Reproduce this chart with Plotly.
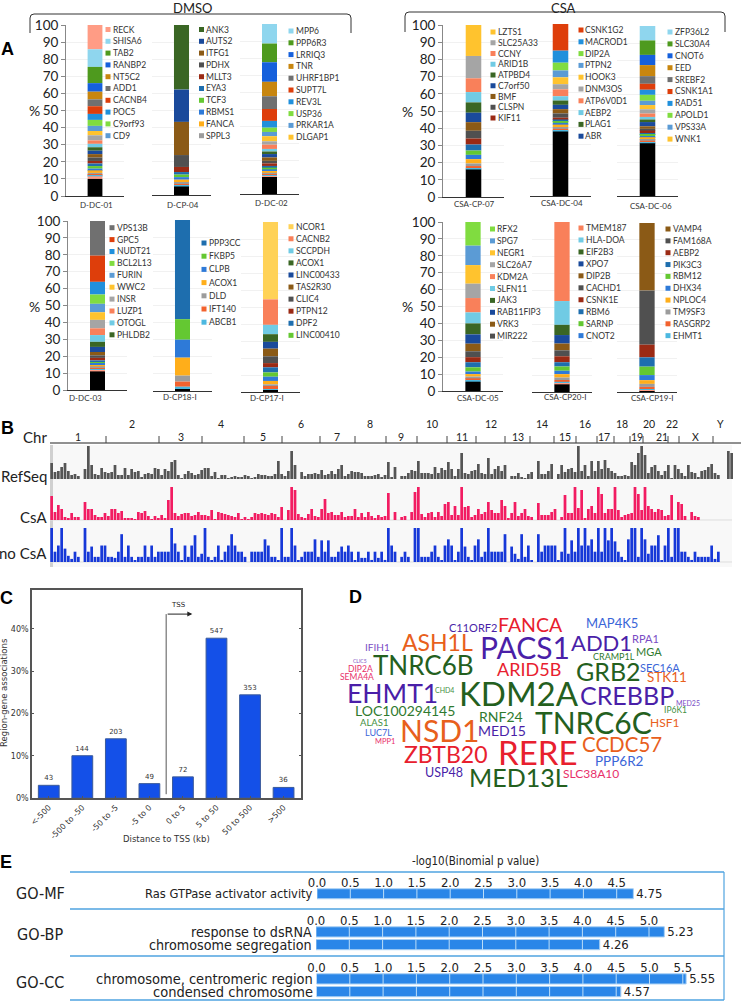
import plotly.graph_objects as go

W, H = 741, 1001
SANS = "Lato"
DJV = "DejaVu Sans"
COND = "DejaVu Sans Condensed, DejaVu Sans"

# ---------- Panel A data ----------
CYCLE = ["#FF9C85", "#8FD6EE", "#4E9A1E", "#1560DC", "#C8860F", "#707070", "#DE3E0B", "#2090DC",
         "#80DC40", "#5B9BD5", "#FFC32E", "#A5A5A5", "#F9805A", "#70CBE4", "#3A6624", "#1A4A9B",
         "#8B5A16", "#505050", "#9B2A14", "#1E6EAE", "#64C832", "#2E7AD8", "#FFAE1A", "#9C9C9C",
         "#F2622E", "#4CB8E0"]

names = ["D-DC-01", "D-CP-04", "D-DC-02", "D-DC-03", "D-CP18-I", "D-CP17-I",
         "CSA-CP-07", "CSA-DC-04", "CSA-DC-06", "CSA-DC-05", "CSA-CP20-I", "CSA-CP19-I"]

# cumulative tops of the stacked segments, top to bottom; last value is the black base
tops_1 = [100, 85.8, 75.5, 66, 61, 56.5, 52.5, 48, 44.5, 41, 38, 35.5, 32.5, 30.5, 28.5, 26.5, 24.5, 22.5, 20.5, 19, 17.5, 16, 15, 13.5, 12.5, 12, 11.5, 10]
tops_2 = [100, 62, 43, 23.5, 16.5, 13.5, 12, 10.5, 9, 7.5, 6.5, 5.5, 5]
tops_3 = [100, 88.5, 77.5, 66, 57.5, 50, 43, 39, 36.5, 34, 31, 29, 26.5, 25, 23.5, 21.5, 19.5, 18, 16.5, 15.5, 14.5, 13.5, 12.5, 11.5, 11, 10.5, 10]
tops_4 = [100, 79.5, 64, 56.5, 51, 46, 41.5, 36.5, 32.5, 28.5, 25.5, 22.5, 20.5, 19, 17.5, 16.5, 15.5, 14.8, 14, 13, 12, 11.5, 11]
tops_5 = [100, 42, 30, 19.5, 9, 5.5, 2.5, 1]
tops_6 = [100, 54.5, 39.5, 34, 29.5, 25.5, 21, 17, 14.5, 11.5, 9, 6.5, 4.5, 3.5, 1.5, 1]
tops_7 = [100, 82, 69, 61, 55, 49, 43.5, 38.5, 34, 30.5, 27, 24.5, 22, 19.5, 18, 16.5, 16]
tops_8 = [100, 84.5, 77.5, 73, 69, 65, 62, 58, 55.5, 53, 50.5, 48, 45.5, 44.5, 43.5, 42.5, 41.5, 40, 39, 38, 37.5]
tops_9 = [100, 91.5, 83, 77, 70.5, 66, 62.5, 59.5, 56, 53.5, 51, 48.5, 46.5, 45, 43.5, 41, 39.5, 38.5, 37, 36, 35.3, 34.6, 33.5, 32.5, 31.5, 31]
tops_10 = [100, 86, 74.5, 63.5, 55, 46.5, 40, 33.5, 28, 23.5, 20, 17, 14, 11.5, 10, 8.5, 7.5, 6, 5.5]
tops_11 = [100, 53.5, 39.5, 33.5, 28.5, 24.5, 21, 17.5, 15, 12.5, 10.5, 8.5, 7, 6, 5, 4.5]
tops_12 = [100, 60, 28, 20.5, 15, 10, 7, 4.8, 3, 1.5, 0.8, 0.5]
all_tops = [tops_1, tops_2, tops_3, tops_4, tops_5, tops_6, tops_7, tops_8, tops_9, tops_10, tops_11, tops_12]
cycle_start = [0, 14, 1, 5, 19, 11, 10, 6, 1, 8, 12, 16]
first_color = {5: "#FFD257"}

genes_1 = ["RECK", "SHISA6", "TAB2", "RANBP2", "NT5C2", "ADD1", "CACNB4", "POC5", "C9orf93", "CD9"]
genes_2 = ["ANK3", "AUTS2", "ITFG1", "PDHX", "MLLT3", "EYA3", "TCF3", "RBMS1", "FANCA", "SPPL3"]
genes_3 = ["MPP6", "PPP6R3", "LRRIQ3", "TNR", "UHRF1BP1", "SUPT7L", "REV3L", "USP36", "PRKAR1A", "DLGAP1"]
genes_4 = ["VPS13B", "GPC5", "NUDT21", "BCL2L13", "FURIN", "WWC2", "INSR", "LUZP1", "OTOGL", "PHLDB2"]
genes_5 = ["PPP3CC", "FKBP5", "CLPB", "ACOX1", "DLD", "IFT140", "ABCB1"]
genes_6 = ["NCOR1", "CACNB2", "SCCPDH", "ACOX1", "LINC00433", "TAS2R30", "CLIC4", "PTPN12", "DPF2", "LINC00410"]
genes_7 = ["LZTS1", "SLC25A33", "CCNY", "ARID1B", "ATPBD4", "C7orf50", "BMF", "CLSPN", "KIF11"]
genes_8 = ["CSNK1G2", "MACROD1", "DIP2A", "PTPN2", "HOOK3", "DNM3OS", "ATP6V0D1", "AEBP2", "PLAG1", "ABR"]
genes_9 = ["ZFP36L2", "SLC30A4", "CNOT6", "EED", "SREBF2", "CSNK1A1", "RAD51", "APOLD1", "VPS33A", "WNK1"]
genes_10 = ["RFX2", "SPG7", "NEGR1", "SLC26A7", "KDM2A", "SLFN11", "JAK3", "RAB11FIP3", "VRK3", "MIR222"]
genes_11 = ["TMEM187", "HLA-DOA", "EIF2B3", "XPO7", "DIP2B", "CACHD1", "CSNK1E", "RBM6", "SARNP", "CNOT2"]
genes_12 = ["VAMP4", "FAM168A", "AEBP2", "PIK3C3", "RBM12", "DHX34", "NPLOC4", "TM9SF3", "RASGRP2", "EHMT1"]
all_genes = [genes_1, genes_2, genes_3, genes_4, genes_5, genes_6, genes_7, genes_8, genes_9, genes_10, genes_11, genes_12]

# x0, x1, ytop, ybottom, show_y, legend swatch x, legend text x, legend y0, legend step, label x, label y
panel_geo = [
    (66, 124, 25, 196, True, 108, 113, 29.5, 11.8, 96, 205),
    (152, 211, 25, 195, False, 201.5, 206, 29.5, 11.8, 183, 205),
    (240, 299, 24, 194, False, 291, 296, 31, 11.8, 271, 203),
    (68, 127, 221, 390, True, 112, 117, 227.7, 11.9, 85, 398),
    (153, 212, 220, 391, False, 204, 209, 243, 13.2, 180, 397),
    (241, 300, 222, 392, False, 291, 296, 226.7, 12.07, 267, 398),
    (443, 504, 25, 197, True, 493, 498, 32, 10.75, 474, 204),
    (530, 591, 24, 196, False, 581, 585, 30, 11.8, 562, 203),
    (617, 678, 26, 196, False, 670, 675, 32, 11.9, 651, 206),
    (443, 503, 222, 391, True, 492.5, 497, 229, 11.9, 478, 398),
    (532, 592, 222, 392, False, 581, 586, 228, 11.96, 565, 397),
    (617, 677, 223, 392, False, 668, 673, 229, 11.85, 652, 398),
]

# ---------- Panel B data ----------
refseq = [16,7,8,12,16,8,4,5,3,0,10,33,14,5,4,11,7,6,7,14,4,4,11,4,10,7,8,2,5,6,5,11,10,4,10,8,17,19,4,1,5,8,6,4,5,9,11,11,3,7,1,4,4,1,2,3,2,2,4,3,1,2,5,4,4,3,3,5,18,
          5,3,8,28,14,0,7,3,5,5,6,5,9,4,5,8,5,10,14,3,5,8,7,7,6,3,3,3,4,5,2,4,17,2,12,0,3,3,6,9,8,18,6,6,6,5,12,6,11,9,17,10,3,10,26,6,5,8,9,15,6,5,21,5,10,13,8,14,0,
          3,3,6,2,1,5,7,0,18,5,5,8,15,0,5,14,7,10,11,7,33,8,14,3,18,8,18,10,19,11,8,6,3,3,4,3,17,14,26,33,24,6,12,14,8,4,8,14,1,14,10,6,3,14,7,6,2,8,9,12,15,6,4,0,0,28,26,0,0]
csa = [24,8,15,11,3,2,7,3,3,0,18,11,11,5,3,3,7,4,11,11,7,9,2,2,2,1,8,7,9,4,1,4,2,5,2,20,33,7,4,6,7,7,4,5,8,5,5,4,10,1,8,7,6,5,4,3,7,1,3,1,3,7,6,7,6,5,7,6,3,
       13,0,10,33,30,6,3,2,6,11,4,3,11,21,7,8,5,5,8,3,4,4,11,3,7,3,8,4,2,5,3,4,27,0,8,0,3,4,0,8,28,33,6,3,7,8,3,8,4,16,18,5,14,5,33,13,14,3,5,11,6,8,18,10,7,7,20,14,2,
       7,18,4,7,11,4,3,0,17,5,5,5,8,11,0,3,25,7,7,33,12,30,2,11,14,7,33,26,7,11,11,33,10,3,5,6,7,33,26,10,33,14,11,8,11,10,4,5,25,0,18,16,4,0,8,4,3,0,0,0,0,0,0,0,0,0,0,0,0]
nocsa = [33,10,16,33,13,6,3,10,5,0,33,10,15,5,5,16,16,5,5,4,10,27,5,16,5,1,5,5,16,5,16,5,10,10,10,10,33,18,10,1,16,5,16,26,5,8,33,5,1,5,16,2,10,16,27,16,10,10,5,0,10,10,10,10,22,16,5,5,1,
         33,5,5,33,16,1,5,10,10,10,22,5,21,10,21,5,5,10,15,10,16,10,1,10,4,4,10,2,10,4,10,2,33,16,10,0,5,10,5,0,33,33,5,5,5,10,16,5,1,16,22,16,1,10,33,15,5,1,16,22,5,10,33,10,10,10,10,27,0,
         15,8,3,27,5,16,1,0,27,10,16,16,16,16,1,10,33,8,21,10,33,16,33,16,22,10,33,10,33,21,33,20,10,5,1,22,33,33,5,33,22,8,16,16,26,1,16,33,5,33,33,10,10,5,2,10,5,5,5,5,16,3,10,0,0,0,0,0,0]
chr_ticks = [106, 159, 202, 244, 282, 320, 355, 386, 417, 447, 476, 505, 530, 554, 576, 597, 614, 630, 643, 668, 679, 713]
chr_low = ["1", "3", "5", "7", "9", "11", "13", "15", "17", "19", "21", "X"]
chr_low_x = [78, 181, 263, 337, 401, 462, 518, 565, 604, 637, 662, 695]
chr_up = ["2", "4", "6", "8", "10", "12", "14", "16", "18", "20", "22", "Y"]
chr_up_x = [132, 221, 301, 370, 432, 491, 542, 585, 622, 649, 672, 720]

# ---------- Panel C data ----------
tss_labels = ["<-500", "-500 to -50", "-50 to -5", "-5 to 0", "0 to 5", "5 to 50", "50 to 500", ">500"]
tss_pct = [3.0, 10.0, 14.0, 3.4, 5.0, 37.8, 24.4, 2.5]
tss_counts = [43, 144, 203, 49, 72, 547, 353, 36]
tss_y_ticks = [0, 10, 20, 30, 40]

# ---------- Panel D data ----------
words = ["FANCA", "C11ORF2", "MAP4K5", "PACS1", "ASH1L", "ADD1", "RPA1", "IFIH1", "MGA", "CRAMP1L", "TNRC6B", "ARID5B", "GRB2", "CLIC5", "DIP2A",
         "SEMA4A", "SEC16A", "STK11", "EHMT1", "CHD4", "KDM2A", "CREBBP", "MED25", "LOC100294145", "IP6K1", "RNF24", "TNRC6C", "ALAS1", "HSF1",
         "NSD1", "MED15", "LUC7L", "MPP1", "CCDC57", "RERE", "ZBTB20", "PPP6R2", "USP48", "MED13L", "SLC38A10"]
word_x = [530, 473, 612, 525, 437, 601, 645, 377, 649, 614, 424, 529, 608, 360, 360, 357, 660, 667, 392, 444, 519, 627, 688, 405, 675, 501, 593, 374, 664,
          439, 502, 378, 385, 622, 537, 446, 619, 444, 518, 591]
word_y = [624, 627, 623, 647, 642, 642, 638, 647, 651, 656, 665, 669, 671, 661, 669, 677, 667, 677, 693, 690, 693, 695, 703, 710, 710, 716, 722, 722, 722,
          730, 730, 732, 741, 744, 752, 754, 761, 772, 777, 773]
word_size = [19.5, 11, 13, 30, 23, 22, 11, 10, 11, 9, 26, 18, 25, 5, 8.5, 8.5, 11, 13.5, 26.5, 7, 33, 25, 7, 14, 8.5, 14, 30, 9.5, 12, 30, 14, 9, 7.5, 20.5, 33, 23, 13.5, 12.5, 25, 12]
PUR, PUR2, GRN, DGRN, MGRN, BLU, ORG, RED, PNK = "#4A1FA8", "#7A4CC4", "#3F8F3F", "#24601E", "#2F7A2F", "#3A66D8", "#E8601C", "#E8202E", "#E8306A"
word_color = [RED, PUR, BLU, PUR, ORG, PUR, PUR2, PUR2, MGRN, MGRN, DGRN, RED, DGRN, PUR2, PNK, PNK, BLU, ORG, PUR, GRN, DGRN, PUR, PUR2, MGRN, GRN, MGRN, DGRN, GRN, ORG,
              ORG, PUR, BLU, PNK, ORG, RED, RED, BLU, PUR, DGRN, PNK]

# ---------- Panel E data ----------
go_mf_terms = ["Ras GTPase activator activity"]
go_mf_vals = [4.75]
go_bp_terms = ["response to dsRNA", "chromosome segregation"]
go_bp_vals = [5.23, 4.26]
go_cc_terms = ["chromosome, centromeric region", "condensed chromosome"]
go_cc_vals = [5.55, 4.57]

# ---------- helpers ----------
def px(x): return x / W
def py(y): return 1 - y / H

fig = go.Figure()
layout = {}
shapes, annots = [], []
axis_no = [0]

def add_axes(x0, x1, ytop, ybot, xopts, yopts):
    axis_no[0] += 1
    n = axis_no[0]
    suf = "" if n == 1 else str(n)
    layout["xaxis" + suf] = dict(domain=[px(x0), px(x1)], anchor="y" + suf, automargin=False, **xopts)
    layout["yaxis" + suf] = dict(domain=[py(ybot), py(ytop)], anchor="x" + suf, automargin=False, **yopts)
    return "x" + suf, "y" + suf

def text(x, y, s, size, color="#222", family=SANS, anchor="center", weight=None, angle=0):
    f = dict(size=size, color=color, family=family)
    if weight:
        f["weight"] = weight
    annots.append(dict(x=px(x), y=py(y), xref="paper", yref="paper", text=s, showarrow=False, font=f,
                       xanchor=anchor, yanchor="middle", textangle=angle, borderpad=0, borderwidth=0))

# ---------- Panel A ----------
for i, (tops, geo) in enumerate(zip(all_tops, panel_geo)):
    x0, x1, yt, yb, show_y, sw_x, tx_x, ly0, lstep, lab_x, lab_y = geo
    xa, ya = add_axes(
        x0, x1, yt, yb,
        dict(range=[-0.5, 0.5], tickvals=[-0.5, 0.5], ticktext=["", ""], ticks="inside", ticklen=3,
             tickcolor="#333", showline=True, linecolor="#333", linewidth=1, showgrid=False, zeroline=False),
        dict(range=[0, 100], tickvals=list(range(0, 101, 10)), showgrid=True, gridcolor="#F1F1F1", zeroline=False,
             showticklabels=show_y, ticks="outside" if show_y else "", ticklen=4, tickcolor="#888",
             showline=show_y, linecolor="#888", tickfont=dict(family=SANS, size=13.5, color="#222")),
    )
    seg_cols = [first_color.get(i) if (k == 0 and i in first_color) else CYCLE[(cycle_start[i] + k) % len(CYCLE)]
                for k in range(len(tops) - 1)]
    heights, bases, cols = [], [], []
    for k in range(len(tops) - 1):
        heights.append(tops[k] - tops[k + 1])
        bases.append(tops[k + 1])
        cols.append(seg_cols[k])
    heights.append(tops[-1])
    bases.append(0)
    cols.append("#000000")
    fig.add_trace(go.Bar(x=[0] * len(heights), y=heights, base=bases, width=0.255, marker=dict(color=cols, line_width=0),
                         xaxis=xa, yaxis=ya, showlegend=False, hoverinfo="skip"))
    for k, g in enumerate(all_genes[i]):
        yy = ly0 + k * lstep
        shapes.append(dict(type="rect", xref="paper", yref="paper", x0=px(sw_x - 2.5), x1=px(sw_x + 2.5),
                           y0=py(yy + 2.5), y1=py(yy - 2.5), fillcolor=seg_cols[k], line_width=0))
        text(tx_x, yy, g, 8.5, "#333", anchor="left")
    text(lab_x, lab_y, names[i], 8, "#333")

for xx, yy in [(34, 110), (34, 306), (407, 111), (407, 306)]:
    text(xx, yy, "%", 14, "#222")

text(192, 8, "DMSO", 13, "#222")
text(563, 8, "CSA", 13, "#222")
def bracket(x0, x1, ytop, ybot):
    r = 4
    return (f"M {px(x0)} {py(ybot)} L {px(x0)} {py(ytop + r)} Q {px(x0)} {py(ytop)} {px(x0 + r)} {py(ytop)} "
            f"L {px(x1 - r)} {py(ytop)} Q {px(x1)} {py(ytop)} {px(x1)} {py(ytop + r)} L {px(x1)} {py(ybot)}")
shapes.append(dict(type="path", xref="paper", yref="paper", path=bracket(30, 351, 14, 33), line=dict(color="#333", width=1)))
shapes.append(dict(type="path", xref="paper", yref="paper", path=bracket(405, 725, 12, 32), line=dict(color="#333", width=1)))

# ---------- Panel letters ----------
for s, xx, yy in [("A", 7, 49), ("B", 7, 428), ("C", 6, 598), ("D", 355, 597), ("E", 6, 862)]:
    text(xx, yy, s, 18, "#000", family="Liberation Sans", weight="bold")

# ---------- Panel B ----------
shapes.append(dict(type="rect", xref="paper", yref="paper", x0=px(50), x1=px(732), y0=py(567), y1=py(445),
                   fillcolor="#F8F8F8", line_width=0, layer="below"))
shapes.append(dict(type="rect", xref="paper", yref="paper", x0=px(50), x1=px(53), y0=py(567), y1=py(445),
                   fillcolor="#D0D0D0", line_width=0, layer="below"))
shapes.append(dict(type="line", xref="paper", yref="paper", x0=px(50), x1=px(741), y0=py(443), y1=py(443), line=dict(color="#222", width=1)))
for t in chr_ticks:
    shapes.append(dict(type="line", xref="paper", yref="paper", x0=px(t), x1=px(t), y0=py(443), y1=py(436), line=dict(color="#444", width=1)))
for s, xx in zip(chr_low, chr_low_x):
    text(xx, 437, s, 10.5, "#222")
for s, xx in zip(chr_up, chr_up_x):
    text(xx, 424, s, 10.5, "#222")
text(47, 437, "Chr", 15, "#222", anchor="right")
text(47, 476, "RefSeq", 15, "#222", anchor="right")
text(47, 517, "CsA", 15, "#222", anchor="right")
text(47, 553, "no CsA", 15, "#222", anchor="right")

for vals, color, yt, yb, base_line in [(refseq, "#555555", 446, 479, False), (csa, "#F21C62", 487, 520, True), (nocsa, "#1638D8", 528, 562, True)]:
    xa, ya = add_axes(50, 740, yt, yb,
                      dict(range=[-0.5, len(vals) - 0.5], visible=False),
                      dict(range=[0, 33], visible=False))
    fig.add_trace(go.Bar(x=list(range(len(vals))), y=vals, width=0.82, marker=dict(color=color, line_width=0),
                         xaxis=xa, yaxis=ya, showlegend=False, hoverinfo="skip"))
    if base_line:
        shapes.append(dict(type="line", xref="paper", yref="paper", x0=px(50), x1=px(732), y0=py(yb), y1=py(yb),
                           line=dict(color="#DDDDDD", width=1), layer="below"))

# ---------- Panel C ----------
xa, ya = add_axes(32, 301, 590, 798,
                  dict(range=[-0.5, 7.52], tickmode="array", tickvals=list(range(8)), ticktext=tss_labels, tickangle=-45,
                       tickfont=dict(family=DJV, size=8, color="#333"), ticks="inside", ticklen=2, tickcolor="#555",
                       showline=True, linecolor="#555", linewidth=1.5, mirror=True, showgrid=False, zeroline=False),
                  dict(range=[0, 49.2], tickvals=tss_y_ticks, ticktext=[f"{v}%" for v in tss_y_ticks],
                       tickfont=dict(family=DJV, size=8, color="#333"), ticks="inside", ticklen=2, tickcolor="#555",
                       showline=True, linecolor="#555", linewidth=1.5, mirror="ticks", showgrid=False, zeroline=False))
fig.add_trace(go.Bar(x=list(range(8)), y=tss_pct, width=0.62, text=[str(c) for c in tss_counts], textposition="outside",
                     textfont=dict(family=DJV, size=7, color="#333"), cliponaxis=False, constraintext="none",
                     marker=dict(color="#1450E8", line=dict(color="#3A5A9A", width=1)),
                     xaxis=xa, yaxis=ya, showlegend=False, hoverinfo="skip"))
text(4, 693, "Region-gene associations", 8.5, "#333", family=DJV, angle=-90)
text(166, 839, "Distance to TSS (kb)", 8.5, "#333", family=DJV)
shapes.append(dict(type="line", xref=xa, yref=ya, x0=3.5, x1=3.5, y0=0.9, y1=43.5, line=dict(color="#555", width=1)))
annots.append(dict(x=4.28, y=43.5, xref=xa, yref=ya, ax=3.5, ay=43.5, axref=xa, ayref=ya, showarrow=True, text="",
                   arrowhead=2, arrowsize=1, arrowwidth=1, arrowcolor="#222"))
annots.append(dict(x=3.88, y=44.2, xref=xa, yref=ya, text="TSS", showarrow=False, yanchor="bottom",
                   font=dict(family=DJV, size=7, color="#222")))

# ---------- Panel D ----------
for w, xx, yy, sz, col in zip(words, word_x, word_y, word_size, word_color):
    text(xx, yy, w, sz, col)

# ---------- Panel E ----------
text(475, 861, "-log10(Binomial p value)", 11.5, "#222", family=COND)
for yy in [872, 909, 956, 1000]:
    shapes.append(dict(type="line", xref="paper", yref="paper", x0=px(70), x1=px(724), y0=py(yy), y1=py(yy), line=dict(color="#4FA3E0", width=1.5)))
shapes.append(dict(type="line", xref="paper", yref="paper", x0=px(724), x1=px(724), y0=py(872), y1=py(1000), line=dict(color="#4FA3E0", width=1.2)))
for s, yy in [("GO-MF", 893), ("GO-BP", 934), ("GO-CC", 982)]:
    text(40, yy, s, 16, "#222", family=COND)

for terms, vals, ytop, ybot, xleft, tmax, lab_size in [(go_mf_terms, go_mf_vals, 887.5, 900, 317, 4.5, 12.8),
                                                       (go_bp_terms, go_bp_vals, 925.5, 951, 316, 5.0, 14.2),
                                                       (go_cc_terms, go_cc_vals, 972.5, 998, 316.5, 5.5, 14.5)]:
    nt = int(tmax / 0.5) + 1
    tv = [0.5 * k for k in range(nt)]
    order = terms[::-1]
    xa, ya = add_axes(xleft, xleft + 66.6 * 6, ytop, ybot,
                      dict(range=[0, 6], side="top", tickvals=tv, ticktext=[f"{v:.1f}" for v in tv], ticks="", ticklen=0,
                           tickfont=dict(family=COND, size=13, color="#222"), showgrid=False,
                           zeroline=False, showline=False, ticklabelstandoff=-3),
                      dict(type="category", categoryorder="array", categoryarray=order, showticklabels=False,
                           range=[-0.5, len(terms) - 0.5], ticks="", showgrid=False, zeroline=False, showline=False))
    fig.add_trace(go.Bar(y=terms, x=vals, orientation="h", width=0.8, text=[f"{v:.2f}" for v in vals], textposition="outside",
                         textfont=dict(family=COND, size=13, color="#222"), cliponaxis=False, constraintext="none",
                         marker=dict(color="#2A86E8", line=dict(color="#A8D0F4", width=1)),
                         xaxis=xa, yaxis=ya, showlegend=False, hoverinfo="skip"))
    for term, val in zip(terms, vals):
        row = order.index(term)
        annots.append(dict(x=px(xleft - 2), xref="paper", y=row, yref=ya, text=term, showarrow=False, xanchor="right",
                           font=dict(family=COND, size=lab_size, color="#222")))
        for v in tv[1:]:
            if v < val:
                shapes.append(dict(type="line", xref=xa, yref=ya, x0=v, x1=v, y0=row - 0.4, y1=row + 0.4,
                                   line=dict(color="#BBDDF8", width=1)))

layout.update(width=W, height=H, margin=dict(l=0, r=0, t=0, b=0, autoexpand=False), paper_bgcolor="white", plot_bgcolor="rgba(0,0,0,0)",
              barmode="overlay", shapes=shapes, annotations=annots, showlegend=False, font=dict(family=SANS))
fig.update_layout(**layout)
fig.write_html("out.html", config=dict(displayModeBar=False),
               post_script="document.body.style.margin='0';document.body.style.overflow='hidden';")
